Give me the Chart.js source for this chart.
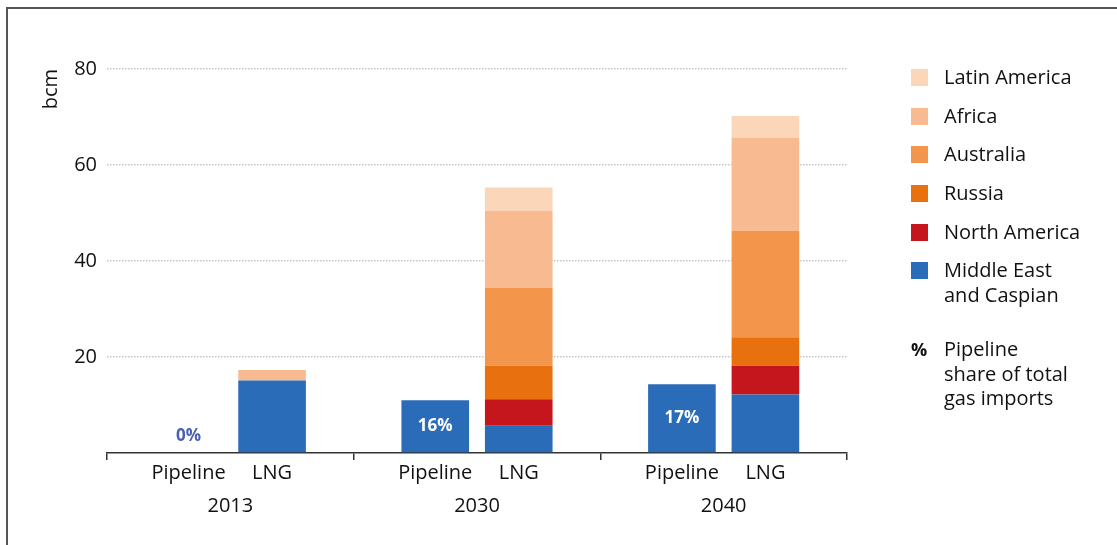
<!DOCTYPE html>
<html>
<head>
<meta charset="utf-8">
<script src="https://cdn.jsdelivr.net/npm/chart.js@4.4.1/dist/chart.umd.min.js"></script>
<style>
  body { margin: 0; background: #fff; }
  #wrap { position: relative; width: 1117px; height: 545px; overflow: hidden; font-family: 'Open Sans', sans-serif; color: #111; }
  #frame { position: absolute; left: 6px; top: 7px; right: -10px; bottom: -10px; border-top: 2px solid #555; border-left: 2px solid #555; }
  #legend { position: absolute; left: 911px; top: 0; font-size: 20px; line-height: 24.5px; }
  .item { position: absolute; left: 0; white-space: nowrap; }
  .sw { position: absolute; left: 0; width: 17px; height: 17px; }
  .txt { position: absolute; left: 33px; }
</style>
</head>
<body>
<div id="wrap">
  <canvas id="chart" width="1117" height="545"></canvas>
  <div id="frame"></div>
  <div id="legend"></div>
</div>
<script>
const years = ['2013', '2030', '2040'];
const barLabels = ['Pipeline', 'LNG'];
const pipelineShare = ['0%', '16%', '17%'];

// pipeline imports (bcm)
const pipeline = [0, 11.0, 14.3];

// LNG imports by source (bcm), bottom to top
const middleEast = [15.1, 5.7, 12.2];
const northAmerica = [0, 5.5, 6.0];
const russia = [0, 7.0, 5.9];
const australia = [0, 16.3, 22.2];
const africa = [2.2, 15.9, 19.3];
const latinAmerica = [0, 4.9, 4.6];

const yTicks = [0, 20, 40, 60, 80];

const lngSeries = [
    { name: 'Middle East\nand Caspian', data: middleEast, color: '#2b6cb8' },
    { name: 'North America', data: northAmerica, color: '#c5161d' },
    { name: 'Russia', data: russia, color: '#e8700e' },
    { name: 'Australia', data: australia, color: '#f4954c' },
    { name: 'Africa', data: africa, color: '#f8bb91' },
    { name: 'Latin America', data: latinAmerica, color: '#fcd6b8' },
];

const FONT = "'Open Sans', sans-serif";

const datasets = [{
    label: 'Pipeline',
    data: pipeline,
    backgroundColor: '#2b6cb8',
    stack: 'pipeline',
}];
lngSeries.forEach(s => {
    datasets.push({
        label: s.name,
        data: s.data,
        backgroundColor: s.color,
        stack: 'lng',
    });
});

// labels under bars + pipeline share
const barText = {
    id: 'barText',
    afterDatasetsDraw(chart) {
        const c = chart.ctx;
        const pipeMeta = chart.getDatasetMeta(0);
        const lngMeta = chart.getDatasetMeta(1);
        const base = chart.scales.y.getPixelForValue(0);
        c.save();
        c.textAlign = 'center';
        c.textBaseline = 'middle';
        c.font = '20px ' + FONT;
        c.fillStyle = '#111';
        years.forEach((y, i) => {
            c.fillText(barLabels[0], pipeMeta.data[i].x, base + 20);
            c.fillText(barLabels[1], lngMeta.data[i].x, base + 20);
        });
        c.font = 'bold 17px ' + FONT;
        pipelineShare.forEach((p, i) => {
            const bar = pipeMeta.data[i];
            if (pipeline[i] > 0) {
                c.fillStyle = '#fff';
                c.fillText(p, bar.x, (bar.y + bar.base) / 2);
            } else {
                c.fillStyle = '#4a5fb8';
                c.fillText(p, bar.x, base - 17);
            }
        });
        c.restore();
    }
};

new Chart(document.getElementById('chart'), {
    type: 'bar',
    data: { labels: years, datasets: datasets },
    options: {
        responsive: false,
        animation: false,
        categoryPercentage: 0.677,
        barPercentage: 0.81,
        layout: { padding: { left: 10, top: 69, right: 270, bottom: 0 } },
        plugins: {
            legend: { display: false },
            tooltip: { enabled: false },
        },
        scales: {
            x: {
                stacked: true,
                grid: {
                    offset: true,
                    drawOnChartArea: false,
                    drawTicks: true,
                    tickLength: 7,
                    color: '#333',
                    lineWidth: 1.5,
                },
                border: { display: true, color: '#333', width: 1.5 },
                ticks: {
                    color: '#111',
                    font: { family: FONT, size: 20 },
                    padding: 34,
                },
                afterFit(scale) { scale.height = 92; },
            },
            y: {
                stacked: true,
                min: 0,
                max: 80,
                afterBuildTicks(scale) { scale.ticks = yTicks.map(v => ({ value: v })); },
                border: { display: false, dash: [1.5, 1.5] },
                grid: {
                    drawTicks: false,
                    color: ctx => ctx.tick && ctx.tick.value === 0 ? 'rgba(0,0,0,0)' : '#c6c6c6',
                    lineWidth: 1.5,
                },
                ticks: {
                    color: '#111',
                    padding: 10,
                    font: { family: FONT, size: 20 },
                    callback: v => v === 0 ? '' : v,
                },
                title: {
                    display: true,
                    text: 'bcm',
                    align: 'end',
                    color: '#111',
                    font: { family: FONT, size: 20 },
                    padding: { top: 29, bottom: 0 },
                },
                afterFit(scale) { scale.width = 97; },
            },
        },
    },
    plugins: [barText],
});

// legend, top to bottom
const legend = document.getElementById('legend');
const rowY = [77, 116, 154, 193, 232, 270];
lngSeries.slice().reverse().forEach((s, i) => {
    const item = document.createElement('div');
    item.className = 'item';
    item.style.top = (rowY[i] - 12) + 'px';
    item.innerHTML = '<div class="sw" style="top:4px;background:' + s.color + '"></div>' +
        '<div class="txt">' + s.name.replace('\n', '<br>') + '</div>';
    legend.appendChild(item);
});
const note = document.createElement('div');
note.className = 'item';
note.style.top = (349 - 12) + 'px';
note.innerHTML = '<div style="position:absolute;left:0;font-weight:bold;font-size:18px">%</div>' +
    '<div class="txt">Pipeline<br>share of total<br>gas imports</div>';
legend.appendChild(note);
</script>
</body>
</html>
